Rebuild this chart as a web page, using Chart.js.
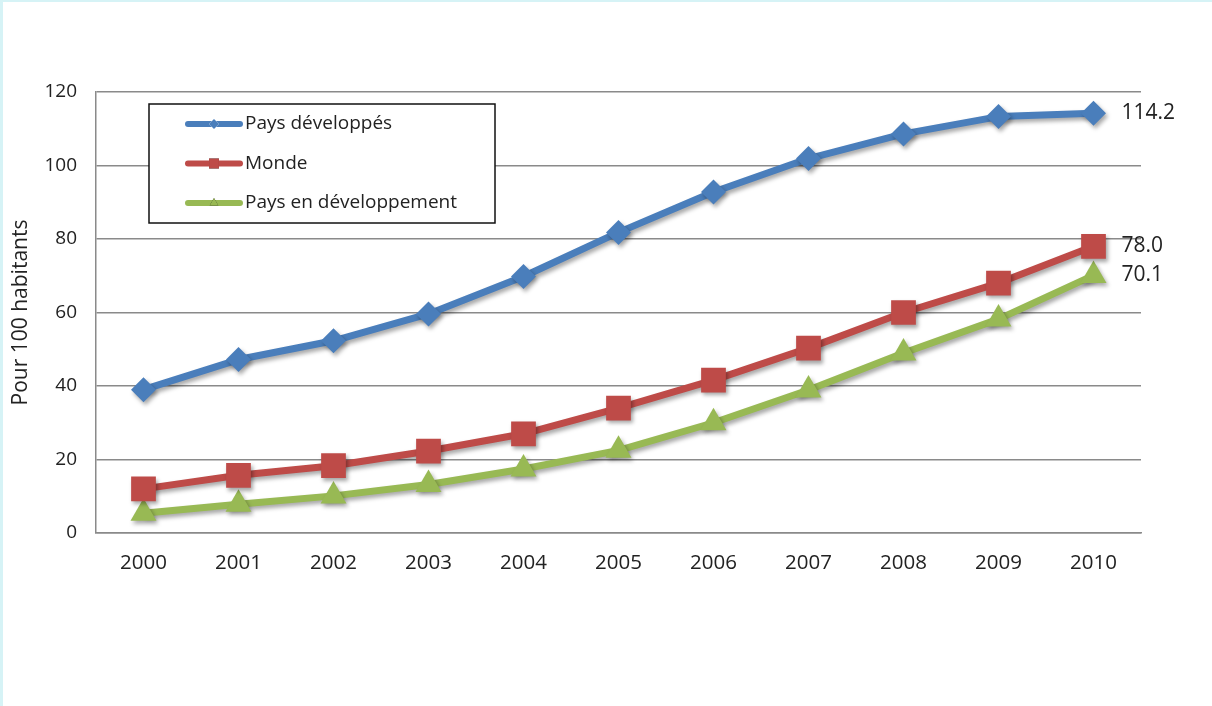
<!DOCTYPE html>
<html>
<head>
<meta charset="utf-8">
<script src="https://cdn.jsdelivr.net/npm/chart.js@4"></script>
<style>
  html, body { margin: 0; padding: 0; background: #fff; }
  .frame {
    width: 1209px; height: 704px;
    border-left: 3px solid #d6f3f6;
    border-top: 2px solid #d6f3f6;
    background: #fff;
  }
  canvas { display: block; }
</style>
</head>
<body>
<div class="frame">
  <canvas id="mobileChart" width="1209" height="704"></canvas>
</div>
<script>
const years = ['2000', '2001', '2002', '2003', '2004', '2005', '2006', '2007', '2008', '2009', '2010'];
const developed = [39.0, 47.2, 52.3, 59.6, 69.8, 81.8, 92.8, 101.9, 108.6, 113.3, 114.2];
const world = [12.0, 15.7, 18.3, 22.3, 27.0, 34.0, 41.6, 50.3, 60.0, 68.0, 78.0];
const developing = [5.4, 7.8, 10.1, 13.2, 17.4, 22.5, 30.0, 38.9, 49.0, 58.2, 70.1];
const yTicks = [0, 20, 40, 60, 80, 100, 120];

const BLUE = '#4a7ebb';
const RED = '#be4b48';
const GREEN = '#98b954';
const TEXT = '#222';
const GRID = '#8a8a8a';
const FONT = "'Open Sans', sans-serif";

// soft drop shadow under lines and markers
const shadowPlugin = {
    id: 'lineShadow',
    beforeDatasetsDraw(chart) {
        const ctx = chart.ctx;
        ctx.save();
        ctx.shadowColor = 'rgba(0,0,0,0.35)';
        ctx.shadowBlur = 4;
        ctx.shadowOffsetX = 2;
        ctx.shadowOffsetY = 3;
    },
    afterDatasetsDraw(chart) {
        chart.ctx.restore();
    }
};

// value of the last point written to the right of it
const endLabels = {
    id: 'endLabels',
    afterDatasetsDraw(chart) {
        const ctx = chart.ctx;
        ctx.save();
        ctx.font = `21px ${FONT}`;
        ctx.fillStyle = TEXT;
        ctx.textAlign = 'left';
        ctx.textBaseline = 'middle';
        chart.data.datasets.forEach((ds, i) => {
            const pts = chart.getDatasetMeta(i).data;
            const last = pts[pts.length - 1];
            ctx.fillText(ds.data[ds.data.length - 1].toFixed(1), last.x + 28, last.y);
        });
        ctx.restore();
    }
};

// boxed legend sitting inside the plot area
const boxLegend = {
    id: 'boxLegend',
    afterDraw(chart) {
        const ctx = chart.ctx;
        const area = chart.chartArea;
        const x = area.left + 53, y = area.top + 12, w = 346, h = 119;
        ctx.save();
        ctx.fillStyle = '#fff';
        ctx.fillRect(x, y, w, h);
        ctx.strokeStyle = '#111';
        ctx.lineWidth = 1.5;
        ctx.strokeRect(x, y, w, h);
        ctx.font = `19px ${FONT}`;
        ctx.textBaseline = 'middle';
        chart.data.datasets.forEach((ds, i) => {
            const cy = y + 20 + i * 39.5;
            ctx.strokeStyle = ds.borderColor;
            ctx.lineWidth = 6;
            ctx.lineCap = 'round';
            ctx.beginPath();
            ctx.moveTo(x + 39, cy);
            ctx.lineTo(x + 91, cy);
            ctx.stroke();
            Chart.helpers.drawPoint(ctx, {
                pointStyle: ds.pointStyle,
                radius: ds.pointStyle === 'rect' ? 7 : 5,
                borderWidth: 0,
                rotation: 0
            }, x + 65, cy);
            ctx.fillStyle = ds.borderColor;
            ctx.fill();
            ctx.fillStyle = TEXT;
            ctx.fillText(ds.label, x + 96, cy);
        });
        ctx.restore();
    }
};

const ctx = document.getElementById('mobileChart');
new Chart(ctx, {
    type: 'line',
    data: {
        labels: years,
        datasets: [
            { label: 'Pays développés', data: developed, borderColor: BLUE, backgroundColor: BLUE,
              pointStyle: 'rectRot', pointRadius: 12.5 },
            { label: 'Monde', data: world, borderColor: RED, backgroundColor: RED,
              pointStyle: 'rect', pointRadius: 17.5 },
            { label: 'Pays en développement', data: developing, borderColor: GREEN, backgroundColor: GREEN,
              pointStyle: 'triangle', pointRadius: 15 }
        ]
    },
    options: {
        responsive: false,
        animation: false,
        devicePixelRatio: 1,
        layout: { padding: { top: 90, right: 71, left: 0, bottom: 0 } },
        elements: {
            line: { borderWidth: 7, tension: 0, borderJoinStyle: 'round' },
            point: { borderWidth: 0, hoverRadius: 12 }
        },
        plugins: {
            legend: { display: false },
            tooltip: { enabled: false }
        },
        scales: {
            x: {
                offset: true,
                grid: { display: false, drawTicks: false },
                border: { color: GRID, width: 1.5 },
                ticks: { color: TEXT, font: { family: FONT, size: 20.5 }, padding: 18 },
                afterFit: s => { s.height = 173; }
            },
            y: {
                min: 0,
                max: 120,
                afterBuildTicks: s => { s.ticks = yTicks.map(v => ({ value: v })); },
                grid: { color: GRID, lineWidth: 1.5, drawTicks: false },
                border: { color: GRID, width: 1.5 },
                ticks: { color: TEXT, font: { family: FONT, size: 19 }, padding: 19 },
                title: {
                    display: true,
                    text: 'Pour 100 habitants',
                    color: TEXT,
                    font: { family: FONT, size: 21 },
                    padding: { top: 5, bottom: 0 }
                },
                afterFit: s => { s.width = 93; }
            }
        }
    },
    plugins: [shadowPlugin, endLabels, boxLegend]
});
</script>
</body>
</html>
